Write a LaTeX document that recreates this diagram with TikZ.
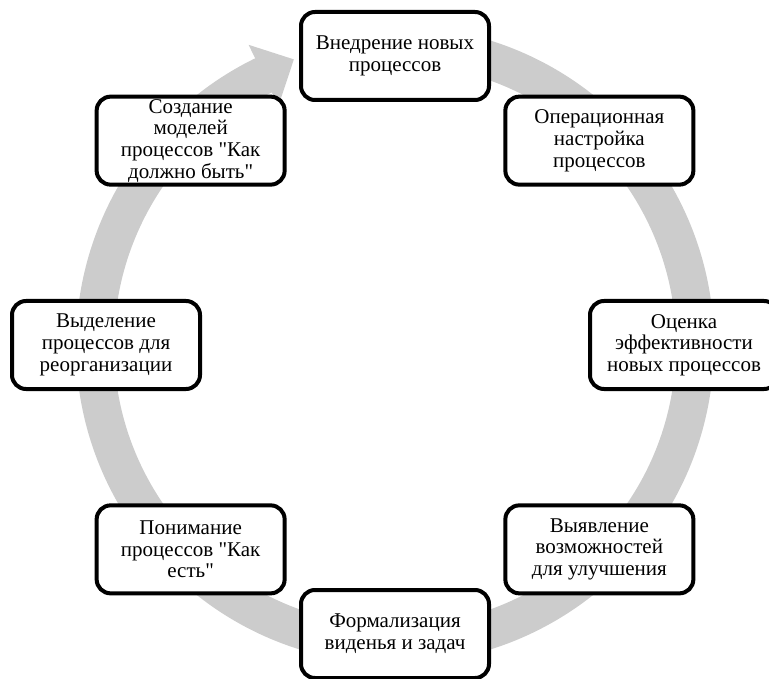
\documentclass[tikz,border=0pt]{standalone}
\usepackage{fontspec}
\setmainfont{Liberation Serif}
\newfontfamily\qfont{Liberation Serif}
\definecolor{ringgray}{RGB}{204,204,204}
\newcommand{\sq}{{\qfont"}}
\begin{document}
\begin{tikzpicture}[x=1pt,y=-1pt,
  stage/.style={draw=black, line width=4pt, rounded corners=14pt, fill=white,
    minimum width=188pt, minimum height=88pt, align=center, inner sep=0pt,
    font=\fontsize{21}{21.7}\selectfont},
  ring/.style={draw=ringgray, line width=38pt},
  ringhead/.style={fill=ringgray, draw=none}]
\useasboundingbox (0,0) rectangle (769,679);
\coordinate (c) at (395,345);
% circular arrow
\draw[ring] ([shift={(-82:300)}]c) arc[start angle=-82, end angle=244.5, radius=300];
\coordinate (tip) at ([shift={(250.5:303)}]c);
\coordinate (hout) at ([shift={(244:334)}]c);
\coordinate (hin) at ([shift={(244:266)}]c);
\fill[ringhead] (hout) -- (tip) -- (hin) -- cycle;
% stages
\node[stage] (n1) at ([shift={(-90:289)}]c) {Внедрение новых\\процессов};
\node[stage] (n2) at ([shift={(-45:289)}]c) {Операционная\\настройка\\процессов};
\node[stage] (n3) at ([shift={(0:289)}]c) {Оценка\\эффективности\\новых процессов};
\node[stage] (n4) at ([shift={(45:289)}]c) {Выявление\\возможностей\\для улучшения};
\node[stage] (n5) at ([shift={(90:289)}]c) {Формализация\\виденья и задач};
\node[stage] (n6) at ([shift={(135:289)}]c) {Понимание\\процессов \sq Как\\есть\sq};
\node[stage] (n7) at ([shift={(180:289)}]c) {Выделение\\процессов для\\реорганизации};
\node[stage] (n8) at ([shift={(225:289)}]c) {Создание\\моделей\\процессов \sq Как\\должно быть\sq};
\end{tikzpicture}
\end{document}
